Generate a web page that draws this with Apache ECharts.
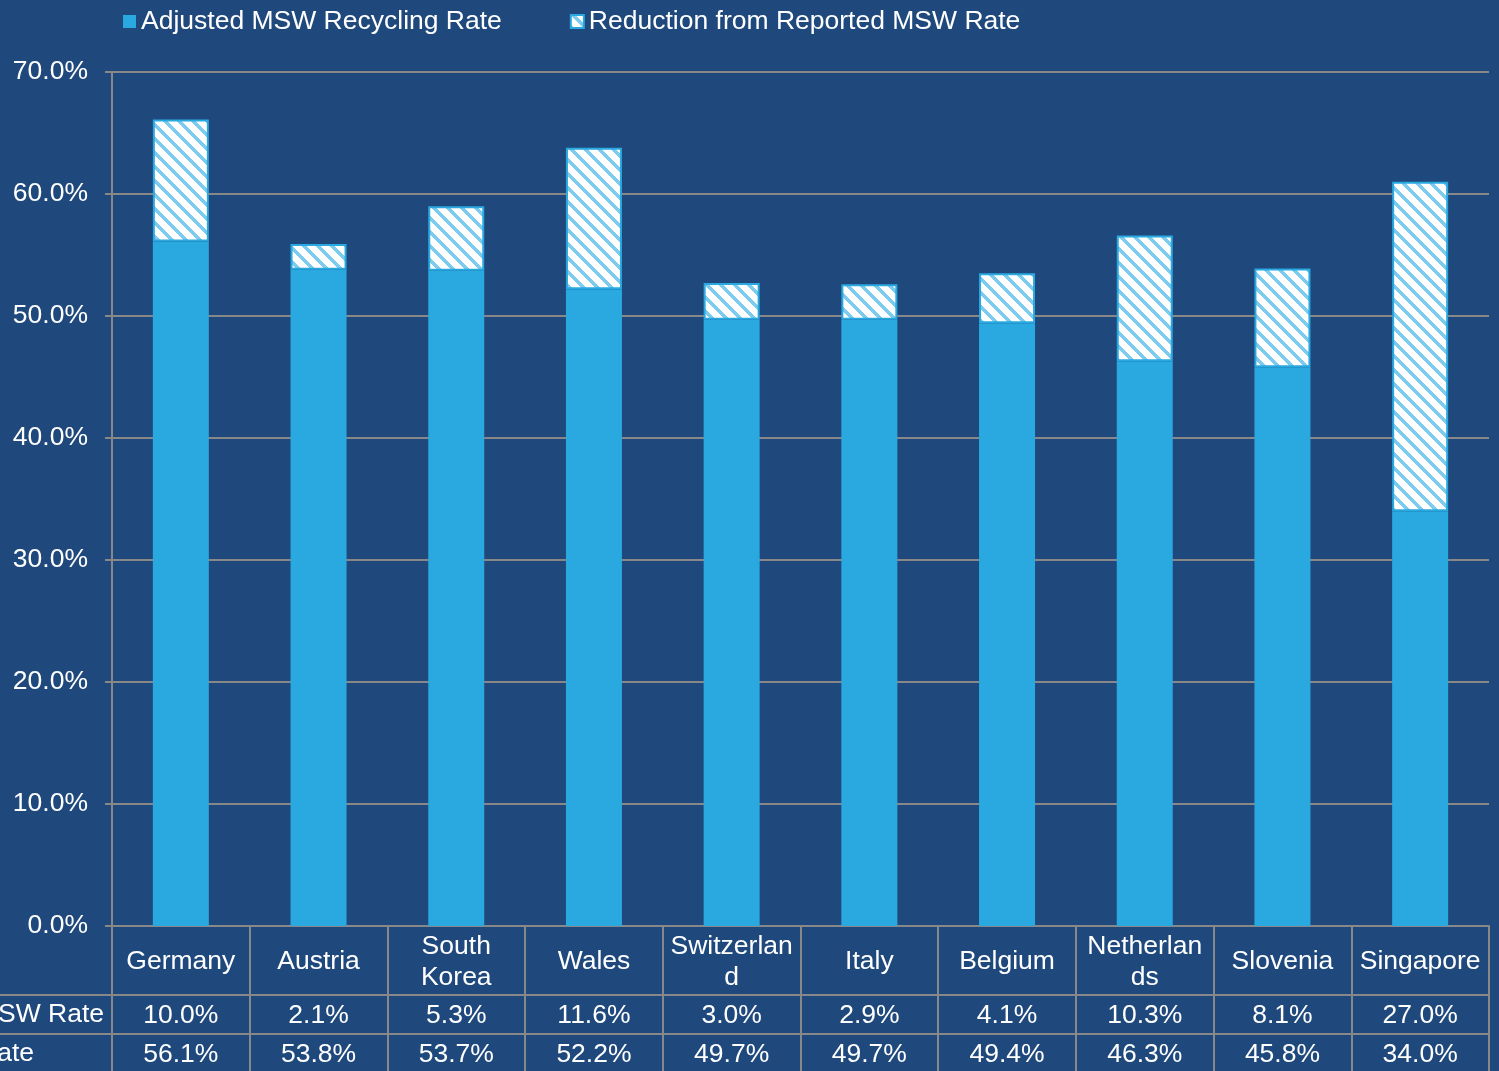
<!DOCTYPE html>
<html>
<head>
<meta charset="utf-8">
<script src="https://cdn.jsdelivr.net/npm/echarts@6/dist/echarts.min.js"></script>
<style>
    html, body { margin: 0; padding: 0; background: #1F497D; }
    #chart { width: 1499px; height: 1071px; }
</style>
</head>
<body>
<div id="chart"></div>
<script>
const countries = ['Germany', 'Austria', 'South\nKorea', 'Wales', 'Switzerlan\nd', 'Italy', 'Belgium', 'Netherlan\nds', 'Slovenia', 'Singapore']
const reduction = [10.0, 2.1, 5.3, 11.6, 3.0, 2.9, 4.1, 10.3, 8.1, 27.0]
const adjusted = [56.1, 53.8, 53.7, 52.2, 49.7, 49.7, 49.4, 46.3, 45.8, 34.0]
const yTicks = [0, 10, 20, 30, 40, 50, 60, 70]

const adjName = 'Adjusted MSW Recycling Rate'
const redName = 'Reduction from Reported MSW Rate'

const font = 'Liberation Sans, Arial, sans-serif'
const fs = 26.5
const gray = '#888888'
const barBlue = '#29A9E0'

// hatch tile: white with light-blue "\" stripes
function hatch() {
    const s = 14, w = 5
    const cv = document.createElement('canvas')
    cv.width = s
    cv.height = s
    const ctx = cv.getContext('2d')
    const img = ctx.createImageData(s, s)
    for (let y = 0; y < s; y++) {
        for (let x = 0; x < s; x++) {
            const i = (y * s + x) * 4
            const on = (((x - y) % s) + s) % s < w
            img.data[i] = on ? 125 : 255
            img.data[i + 1] = on ? 203 : 255
            img.data[i + 2] = on ? 238 : 255
            img.data[i + 3] = 255
        }
    }
    ctx.putImageData(img, 0, 0)
    return cv
}

const fmt = v => v.toFixed(1) + '%'

const chart = echarts.init(document.getElementById('chart'))

const tableAxis = (offset, values) => ({
    type: 'category',
    data: countries,
    position: 'bottom',
    offset,
    axisLine: { show: true, lineStyle: { color: gray, width: 2 } },
    axisTick: { show: false },
    axisLabel: {
        interval: 0,
        margin: 21,
        verticalAlign: 'middle',
        color: '#fff',
        fontSize: fs,
        fontFamily: font,
        formatter: (v, i) => fmt(values[i])
    }
})

chart.setOption({
    backgroundColor: '#1F497D',
    animation: false,
    textStyle: { fontFamily: font },
    legend: {
        left: 118,
        top: 3,
        itemWidth: 13,
        itemHeight: 13,
        itemGap: 68,
        icon: 'rect',
        textStyle: { color: '#fff', fontSize: fs, fontFamily: font },
        data: [adjName, redName]
    },
    grid: { left: 112, right: 10, top: 72, bottom: 145 },
    xAxis: [
        {
            type: 'category',
            data: countries,
            axisLine: { show: true, lineStyle: { color: gray, width: 2 } },
            axisTick: { show: true, length: 150, lineStyle: { color: gray, width: 2 } },
            axisLabel: {
                interval: 0,
                margin: 36,
                verticalAlign: 'middle',
                lineHeight: 31,
                color: '#fff',
                fontSize: fs,
                fontFamily: font
            }
        },
        tableAxis(69, reduction),
        tableAxis(108, adjusted)
    ],
    yAxis: {
        type: 'value',
        min: yTicks[0],
        max: yTicks[yTicks.length - 1],
        interval: 10,
        axisLine: { show: true, lineStyle: { color: gray, width: 2 } },
        axisTick: { show: true, length: 7, lineStyle: { color: gray, width: 2 } },
        splitLine: { lineStyle: { color: gray, width: 2 } },
        axisLabel: {
            margin: 24,
            color: '#fff',
            fontSize: fs,
            fontFamily: font,
            padding: [5, 0, 0, 0],
            formatter: v => fmt(v)
        }
    },
    series: [
        {
            name: adjName,
            type: 'bar',
            stack: 'msw',
            barWidth: 56,
            itemStyle: { color: barBlue },
            data: adjusted
        },
        {
            name: redName,
            type: 'bar',
            stack: 'msw',
            barWidth: 56,
            itemStyle: {
                color: { image: hatch(), repeat: 'repeat' },
                borderColor: barBlue,
                borderWidth: 2
            },
            data: reduction
        }
    ],
    graphic: [
        { type: 'line', shape: { x1: 0, y1: 995, x2: 112, y2: 995 }, style: { stroke: gray, lineWidth: 2 } },
        { type: 'line', shape: { x1: 0, y1: 1034, x2: 112, y2: 1034 }, style: { stroke: gray, lineWidth: 2 } },
        { type: 'text', x: 104, y: 1015, style: { text: redName, fill: '#fff', font: fs + 'px ' + font, align: 'right', verticalAlign: 'middle' } },
        { type: 'text', x: 34, y: 1054, style: { text: adjName, fill: '#fff', font: fs + 'px ' + font, align: 'right', verticalAlign: 'middle' } }
    ]
})
</script>
</body>
</html>
